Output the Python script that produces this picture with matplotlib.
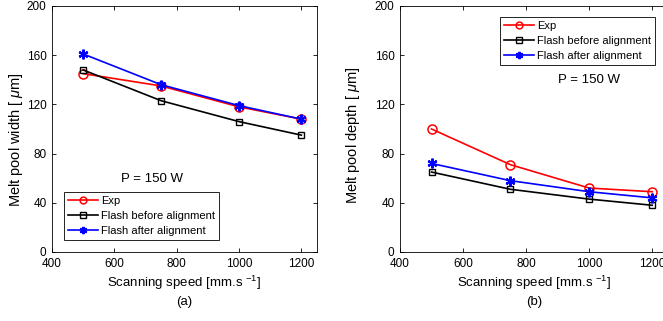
import matplotlib
matplotlib.use("Agg")
import matplotlib.pyplot as plt

plt.rcParams['font.family'] = ['Liberation Sans', 'DejaVu Sans']
plt.rcParams['mathtext.fontset'] = 'custom'
plt.rcParams['mathtext.it'] = 'Liberation Sans:italic'
plt.rcParams['mathtext.rm'] = 'Liberation Sans'

speed = [500, 750, 1000, 1200]
width_exp = [145, 135, 118, 108]
width_before = [148, 123, 106, 95]
width_after = [161, 136, 119, 108]
depth_exp = [100, 71, 52, 49]
depth_before = [65, 51, 43, 38]
depth_after = [72, 58, 49, 44]
labels = ["Exp", "Flash before alignment", "Flash after alignment"]
xticks = [400, 600, 800, 1000, 1200]
yticks = [0, 40, 80, 120, 160, 200]

fig = plt.figure(figsize=(6.63, 3.21), dpi=100)
ax1 = fig.add_axes([52/663, 1-252/321, 265/663, 246/321])
ax2 = fig.add_axes([400/663, 1-252/321, 268/663, 246/321])

asterisk = (6, 2, 0)

def draw(ax, exp, before, after, ylabel, sub, legloc, ptxt, ylab_xy):
    ax.plot(speed, exp, color='red', marker='o', mfc='none', ms=6.5, lw=1.2, mew=1.1, label=labels[0])
    ax.plot(speed, before, color='black', marker='s', mfc='none', ms=5, lw=1.2, mew=1.0, label=labels[1])
    ax.plot(speed, after, color='blue', marker=asterisk, ms=7, lw=1.2, mew=1.6, label=labels[2])
    ax.set_xlim(400, 1250)
    ax.set_ylim(0, 200)
    ax.set_xticks(xticks)
    ax.set_yticks(yticks)
    ax.tick_params(direction='in', top=True, right=True, labelsize=8.5, length=3, width=0.6, pad=4)
    for s in ax.spines.values():
        s.set_linewidth(0.6)
    ax.set_ylabel(ylabel, fontsize=10.5, labelpad=4)
    ax.yaxis.set_label_coords(ylab_xy[0], ylab_xy[1])
    ax.set_xlabel("Scanning speed [mm.s $^{-1}$]\n(" + sub + ")", fontsize=9.5, linespacing=1.45, labelpad=3)
    leg = ax.legend(loc=legloc[0], bbox_to_anchor=legloc[1], fontsize=8, frameon=True, fancybox=False,
                    edgecolor='black', framealpha=1, borderpad=0.35, labelspacing=0.45, handlelength=2.7,
                    handletextpad=0.3, borderaxespad=0, markerscale=0.75)
    leg.get_frame().set_linewidth(0.6)
    ax.text(ptxt[0], ptxt[1], "P = 150 W", fontsize=9.5, ha='center', va='center')

draw(ax1, width_exp, width_before, width_after, r"Melt pool width [ $\mu$m]", 'a',
     ('lower left', (12/265, 12/246)), (720, 59), (-0.10, 0.457))
draw(ax2, depth_exp, depth_before, depth_after, r"Melt pool depth [ $\mu$m]", 'b',
     ('upper left', (100/268, 1-11/246)), (1000, 140), (-0.14, 0.476))

fig.savefig("out.png", dpi=100)
